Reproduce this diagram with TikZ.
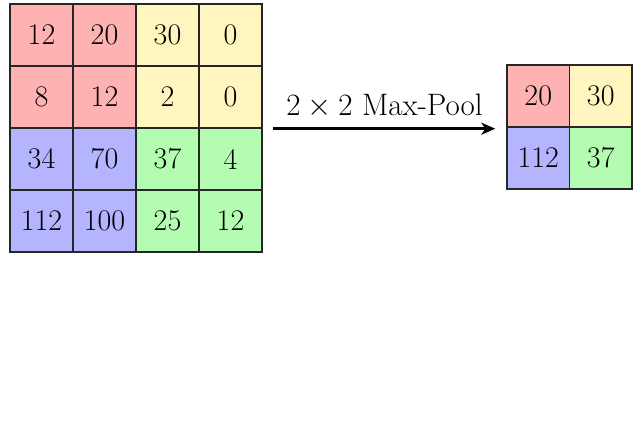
\RequirePackage{fix-cm}
\documentclass[tikz,border=0pt]{standalone}
\usetikzlibrary{arrows.meta}
\definecolor{cred}{RGB}{255,178,178}
\definecolor{cyel}{RGB}{255,245,190}
\definecolor{cblu}{RGB}{180,180,255}
\definecolor{cgrn}{RGB}{180,252,178}
\begin{document}
\begin{tikzpicture}[x=1pt,y=-1pt,
  cell/.style={draw=black!85, line width=1.4pt, minimum width=63pt, minimum height=62pt, inner sep=0pt, font=\fontsize{30}{33}\selectfont},
  cellr/.style={cell, minimum width=62.5pt},
  r/.style={fill=cred}, yl/.style={fill=cyel}, b/.style={fill=cblu}, g/.style={fill=cgrn}]
\useasboundingbox (0,0) rectangle (642,438);
\fill[white] (0,0) rectangle (642,438);
% left grid
\node[cell,r]  (a11) at (41.5,35) {12};
\node[cell,r]  (a12) at (104.5,35) {20};
\node[cell,yl] (a13) at (167.5,35) {30};
\node[cell,yl] (a14) at (230.5,35) {0};
\node[cell,r]  (a21) at (41.5,97) {8};
\node[cell,r]  (a22) at (104.5,97) {12};
\node[cell,yl] (a23) at (167.5,97) {2};
\node[cell,yl] (a24) at (230.5,97) {0};
\node[cell,b]  (a31) at (41.5,159) {34};
\node[cell,b]  (a32) at (104.5,159) {70};
\node[cell,g]  (a33) at (167.5,159) {37};
\node[cell,g]  (a34) at (230.5,159) {4};
\node[cell,b]  (a41) at (41.5,221) {112};
\node[cell,b]  (a42) at (104.5,221) {100};
\node[cell,g]  (a43) at (167.5,221) {25};
\node[cell,g]  (a44) at (230.5,221) {12};
% right grid
\node[cellr,r]  (b11) at (538.25,96) {20};
\node[cellr,yl] (b12) at (600.75,96) {30};
\node[cellr,b]  (b21) at (538.25,158) {112};
\node[cellr,g]  (b22) at (600.75,158) {37};
% arrow
\draw[line width=2.4pt, -{Stealth[length=14pt,width=12pt,inset=4pt]}, shorten <=10pt, shorten >=11pt]
  (a24.south east) -- (a24.south east -| b21.west)
  node[midway, anchor=base, yshift=13pt, font=\fontsize{31}{34}\selectfont] (lbl) {$2\times 2$ Max-Pool};
\end{tikzpicture}
\end{document}
